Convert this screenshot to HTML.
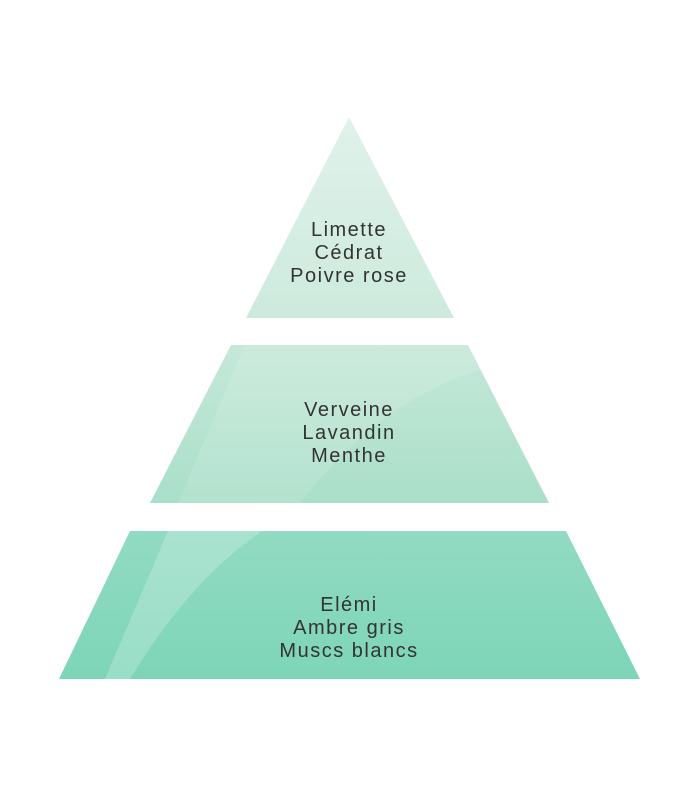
<!DOCTYPE html>
<html><head><meta charset="utf-8"><style>
html,body{margin:0;padding:0;background:#fff;width:700px;height:800px;overflow:hidden}
text{font-family:"Liberation Sans",sans-serif;font-size:20px;fill:#333;letter-spacing:1.5px}
</style></head><body>
<svg width="700" height="800" viewBox="0 0 700 800">
<defs>
<linearGradient id="g1" x1="0" y1="0" x2="0" y2="1"><stop offset="0" stop-color="#e0f2ea"/><stop offset="1" stop-color="#cdeadd"/></linearGradient>
<linearGradient id="g2" x1="0" y1="0" x2="0" y2="1"><stop offset="0" stop-color="#c6e8d9"/><stop offset="1" stop-color="#a9dfc9"/></linearGradient>
<linearGradient id="g3" x1="0" y1="0" x2="0" y2="1"><stop offset="0" stop-color="#92dbc2"/><stop offset="1" stop-color="#7dd5b8"/></linearGradient>
</defs>
<polygon points="349,117 454,318 246,318" fill="url(#g1)"/>
<polygon points="231,345 468,345 549,503 150,503" fill="url(#g2)"/>
<path d="M245,345 L178,503 L300,503 Q380,400 480,370 L468,345 Z" fill="#fff" opacity="0.12"/>
<polygon points="130,531 566,531 640,679 59,679" fill="url(#g3)"/>
<path d="M168,531 L105,679 L130,679 Q190,580 262,531 Z" fill="#fff" opacity="0.22"/>
<text text-anchor="middle" x="349" y="236">Limette</text>
<text text-anchor="middle" x="349" y="259">Cédrat</text>
<text text-anchor="middle" x="349" y="282">Poivre rose</text>
<text text-anchor="middle" x="349" y="416">Verveine</text>
<text text-anchor="middle" x="349" y="439">Lavandin</text>
<text text-anchor="middle" x="349" y="462">Menthe</text>
<text text-anchor="middle" x="349" y="611">Elémi</text>
<text text-anchor="middle" x="349" y="634">Ambre gris</text>
<text text-anchor="middle" x="349" y="657">Muscs blancs</text>
</svg>
</body></html>
